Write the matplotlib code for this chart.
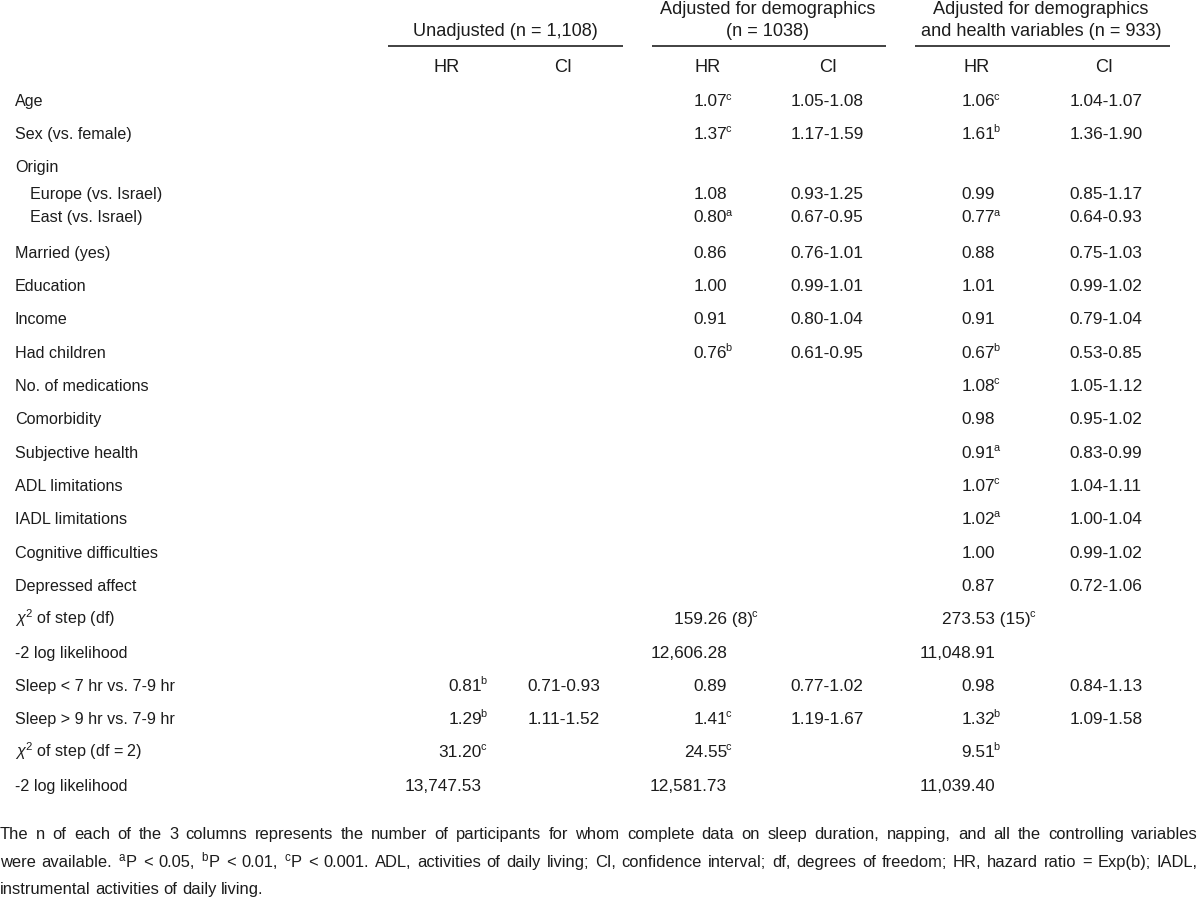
import matplotlib
matplotlib.use("Agg")
import matplotlib.pyplot as plt
from matplotlib.font_manager import FontProperties

plt.rcParams['mathtext.fontset'] = 'custom'
plt.rcParams['mathtext.rm'] = 'Liberation Sans'
plt.rcParams['mathtext.it'] = 'Liberation Sans:italic'
plt.rcParams['mathtext.bf'] = 'Liberation Sans:bold'

# ---------------- data ----------------
row_labels = ["Age", "Sex (vs. female)", "Origin", "Europe (vs. Israel)", "East (vs. Israel)",
              "Married (yes)", "Education", "Income", "Had children", "No. of medications",
              "Comorbidity", "Subjective health", "ADL limitations", "IADL limitations",
              "Cognitive difficulties", "Depressed affect", r"$\chi^{2}$ of step (df)",
              "-2 log likelihood", "Sleep < 7 hr vs. 7-9 hr", "Sleep > 9 hr vs. 7-9 hr",
              r"$\chi^{2}$ of step (df = 2)", "-2 log likelihood"]
indented = [False, False, False, True, True] + [False] * 17

unadj_hr = [""] * 18 + ["0.81", "1.29", "31.20", "13,747.53"]
unadj_sup = [""] * 18 + ["b", "b", "c", ""]
unadj_ci = [""] * 18 + ["0.71-0.93", "1.11-1.52", "", ""]

demo_hr = ["1.07", "1.37", "", "1.08", "0.80", "0.86", "1.00", "0.91", "0.76"] + [""] * 7 + \
          ["159.26 (8)", "12,606.28", "0.89", "1.41", "24.55", "12,581.73"]
demo_sup = ["c", "c", "", "", "a", "", "", "", "b"] + [""] * 7 + ["c", "", "", "c", "c", ""]
demo_ci = ["1.05-1.08", "1.17-1.59", "", "0.93-1.25", "0.67-0.95", "0.76-1.01", "0.99-1.01",
           "0.80-1.04", "0.61-0.95"] + [""] * 9 + ["0.77-1.02", "1.19-1.67", "", ""]

health_hr = ["1.06", "1.61", "", "0.99", "0.77", "0.88", "1.01", "0.91", "0.67", "1.08", "0.98",
             "0.91", "1.07", "1.02", "1.00", "0.87", "273.53 (15)", "11,048.91", "0.98", "1.32",
             "9.51", "11,039.40"]
health_sup = ["c", "b", "", "", "a", "", "", "", "b", "c", "", "a", "c", "a", "", "", "c", "",
              "", "b", "b", ""]
health_ci = ["1.04-1.07", "1.36-1.90", "", "0.85-1.17", "0.64-0.93", "0.75-1.03", "0.99-1.02",
             "0.79-1.04", "0.53-0.85", "1.05-1.12", "0.95-1.02", "0.83-0.99", "1.04-1.11",
             "1.00-1.04", "0.99-1.02", "0.72-1.06", "", "", "0.84-1.13", "1.09-1.58", "", ""]

group_titles = [["Unadjusted (n = 1,108)"],
                ["Adjusted for demographics", "(n = 1038)"],
                ["Adjusted for demographics", "and health variables (n = 933)"]]
sub_headers = ["HR", "CI"]

footnote = [
    "The n of each of the 3 columns represents the number of participants for whom complete data on sleep duration, napping, and all the controlling variables",
    r"were available. $^{\mathrm{a}}$P < 0.05, $^{\mathrm{b}}$P < 0.01, $^{\mathrm{c}}$P < 0.001. ADL, activities of daily living; CI, confidence interval; df, degrees of freedom; HR, hazard ratio = Exp(b); IADL,",
    "instrumental activities of daily living.",
]

# ---------------- layout ----------------
W, H = 1200, 920
fig = plt.figure(figsize=(W / 100, H / 100), dpi=100)
ax = fig.add_axes([0, 0, 1, 1])
ax.set_xlim(0, W)
ax.set_ylim(H, 0)
ax.axis("off")
renderer = fig.canvas.get_renderer()

color = "#1c1c1c"
fp_head = FontProperties(family="Liberation Sans", size=13.1)
fp_num = FontProperties(family="Liberation Sans", size=12.4)
fp_sup = FontProperties(family="Liberation Sans", size=7.8)
fp_lab = FontProperties(family="Liberation Sans", size=11.6)
fp_foot = FontProperties(family="Liberation Sans", size=11.9)

row_y = [100, 133, 166, 193, 216, 252, 285, 318, 352, 385, 418, 452, 485, 518, 552, 585,
         618, 652, 685, 718, 751, 785]

group_center = [505, 768, 1041]
group_line = [(388, 623), (652, 886), (915, 1170)]
hr_head_x = [447, 708, 977]
ci_head_x = [563, 828, 1104]
hr_decimal_x = [458, 703, 971]
ci_center_x = [564, 827, 1106]
base_off = 6  # baseline offset below row centre


def text_width(s, fp):
    t = ax.text(0, 0, s, fontproperties=fp)
    w = t.get_window_extent(renderer).width
    t.remove()
    return w


# group headers
for g, lines in enumerate(group_titles):
    ys = [32] if len(lines) == 1 else [9, 32]
    for txt, yy in zip(lines, ys):
        ax.text(group_center[g], yy, txt, ha="center", va="center", fontproperties=fp_head, color=color)
    x0, x1 = group_line[g]
    ax.plot([x0, x1], [47, 47], color="#333333", lw=1.3, solid_capstyle="butt")
    ax.text(hr_head_x[g], 68, sub_headers[0], ha="center", va="center", fontproperties=fp_head, color=color)
    ax.text(ci_head_x[g], 68, sub_headers[1], ha="center", va="center", fontproperties=fp_head, color=color)

# row labels
for lab, ind, yy in zip(row_labels, indented, row_y):
    ax.text(30 if ind else 15, yy + base_off, lab, ha="left", va="baseline", fontproperties=fp_lab, color=color)

dot_w = text_width(".00", fp_num)


def draw_hr(dx, val, sup, yy):
    if not val:
        return
    left = val.split(".", 1)[0]
    lw = text_width(left + ".00", fp_num) - dot_w
    x0 = dx - lw
    ax.text(x0, yy, val, ha="left", va="baseline", fontproperties=fp_num, color=color)
    if sup:
        vw = text_width(val, fp_num)
        ax.text(x0 + vw - 1.5, yy - 6.5, sup, ha="left", va="baseline", fontproperties=fp_sup, color=color)


cols = [(unadj_hr, unadj_sup, unadj_ci), (demo_hr, demo_sup, demo_ci), (health_hr, health_sup, health_ci)]
for g, (hr, sp, ci) in enumerate(cols):
    for i, yy in enumerate(row_y):
        draw_hr(hr_decimal_x[g], hr[i], sp[i], yy + base_off)
        if ci[i]:
            ax.text(ci_center_x[g], yy + base_off, ci[i], ha="center", va="baseline",
                    fontproperties=fp_num, color=color)


# footnote (first two lines justified)
def justified(text, yy, x0, x1, justify=True):
    words = text.split(" ")
    widths = [text_width(w, fp_foot) for w in words]
    space = text_width("a a", fp_foot) - text_width("aa", fp_foot)
    gap = space
    if justify and len(words) > 1:
        gap = max(space * 0.6, (x1 - x0 - sum(widths)) / (len(words) - 1))
    x = x0
    for w, wd in zip(words, widths):
        ax.text(x, yy, w, ha="left", va="baseline", fontproperties=fp_foot, color=color)
        x += wd + gap


foot_y = [839, 867, 894]
justified(footnote[0], foot_y[0], 0, 1198)
justified(footnote[1], foot_y[1], 0, 1198)
justified(footnote[2], foot_y[2], 0, 1198, justify=False)

fig.savefig("out.png", dpi=100, facecolor="white")
